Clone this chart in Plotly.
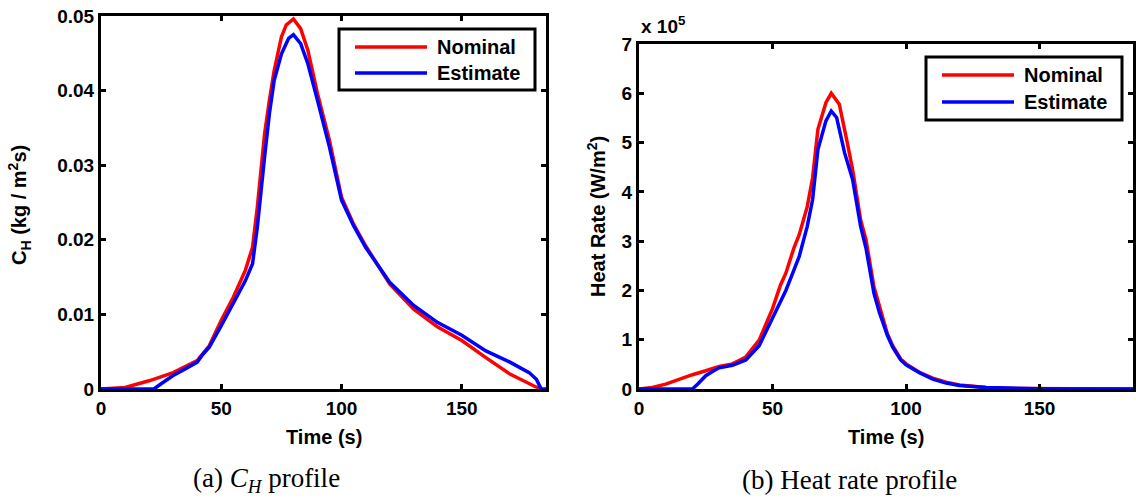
import plotly.graph_objects as go

# ---------------- data ----------------
# Panel (a): C_H profile  (kg / m^2 s)
t_ch_nom = [0, 10, 20, 30, 40, 45, 50, 55, 60, 63, 65, 68, 70, 72, 75, 77, 80, 83, 86, 90,
            95, 100, 105, 110, 120, 130, 140, 150, 160, 170, 180, 183]
ch_nom = [0, 0.0002, 0.0011, 0.0022, 0.0038, 0.0058, 0.0092, 0.0123, 0.0159, 0.0190, 0.0244,
          0.0342, 0.0387, 0.0427, 0.0472, 0.0488, 0.0496, 0.0483, 0.0454, 0.0396, 0.0333,
          0.0257, 0.0221, 0.0192, 0.0141, 0.0107, 0.0083, 0.0065, 0.0042, 0.0020, 0.0004, 0]

t_ch_est = [0, 22, 25, 30, 35, 40, 42, 45, 50, 55, 60, 63, 65, 68, 70, 72, 75, 78, 80, 83, 86,
            90, 95, 100, 105, 110, 120, 130, 140, 150, 160, 170, 178, 181, 183, 185]
ch_est = [0, 0, 0.0007, 0.0018, 0.0027, 0.0036, 0.0045, 0.0056, 0.0085, 0.0114, 0.0145, 0.0168,
          0.0217, 0.0311, 0.0369, 0.0414, 0.0449, 0.0470, 0.0475, 0.0463, 0.0436, 0.0387,
          0.0324, 0.0253, 0.0219, 0.0190, 0.0143, 0.0112, 0.0089, 0.0072, 0.0051, 0.0036,
          0.0022, 0.0013, 0, 0]

# Panel (b): heat rate profile, in units of 1e5 W/m^2
t_hr_nom = [0, 5, 10, 15, 20, 25, 30, 35, 40, 45, 48, 50, 53, 55, 58, 60, 63, 65, 67, 70, 72,
            75, 78, 80, 83, 85, 88, 90, 93, 95, 98, 100, 105, 110, 115, 120, 130, 140, 150,
            160, 185]
hr_nom = [0, 0.03, 0.10, 0.20, 0.29, 0.37, 0.46, 0.51, 0.65, 0.99, 1.36, 1.63, 2.11, 2.35,
          2.86, 3.13, 3.70, 4.28, 5.27, 5.81, 6.00, 5.78, 5.00, 4.45, 3.43, 3.03, 2.07, 1.67,
          1.12, 0.88, 0.61, 0.51, 0.34, 0.22, 0.14, 0.08, 0.03, 0.01, 0.005, 0, 0]

t_hr_est = [0, 20, 22, 25, 28, 30, 35, 40, 45, 50, 55, 58, 60, 63, 65, 67, 70, 72, 74, 77, 80,
            83, 85, 88, 90, 93, 95, 98, 100, 105, 110, 115, 120, 130, 140, 150, 160, 185]
hr_est = [0, 0, 0.10, 0.27, 0.37, 0.43, 0.48, 0.59, 0.88, 1.43, 2.00, 2.41, 2.69, 3.30, 3.84,
          4.86, 5.44, 5.64, 5.51, 4.79, 4.25, 3.30, 2.86, 1.94, 1.56, 1.09, 0.85, 0.59, 0.49,
          0.33, 0.20, 0.12, 0.07, 0.03, 0.01, 0.005, 0, 0]

series_names = ["Nominal", "Estimate"]
x_ticks = [0, 50, 100, 150]
ch_ticks = [0, 0.01, 0.02, 0.03, 0.04, 0.05]
ch_ticktext = ["0", "0.01", "0.02", "0.03", "0.04", "0.05"]
hr_ticks = [0, 1, 2, 3, 4, 5, 6, 7]

# ---------------- figure ----------------
W, H = 1136, 500
COLORS = ["#ff0000", "#0000ff"]
SANS = "Liberation Sans, Arial, sans-serif"
SERIF = "Liberation Serif, Times New Roman, serif"

fig = go.Figure()
panels = [
    ("x", "y", [(t_ch_nom, ch_nom), (t_ch_est, ch_est)]),
    ("x2", "y2", [(t_hr_nom, hr_nom), (t_hr_est, hr_est)]),
]
for xa, ya, series in panels:
    for (tx, vy), name, col in zip(series, series_names, COLORS):
        fig.add_trace(go.Scatter(x=tx, y=vy, mode="lines", name=name, showlegend=False,
                                 line=dict(color=col, width=3.5), xaxis=xa, yaxis=ya,
                                 hoverinfo="skip"))

axis_common = dict(showline=True, linecolor="black", linewidth=3, mirror="ticks",
                   ticks="inside", ticklen=5, tickwidth=3, tickcolor="black",
                   showgrid=False, zeroline=False, automargin=False, fixedrange=True,
                   tickfont=dict(family=SANS, size=19, color="black", weight="bold"))

fig.update_layout(
    width=W, height=H,
    margin=dict(l=0, r=0, t=0, b=0, autoexpand=False),
    paper_bgcolor="white", plot_bgcolor="white",
    xaxis=dict(domain=[101 / W, 546 / W], range=[0, 185], tickvals=x_ticks, anchor="y",
               **axis_common),
    yaxis=dict(domain=[1 - 389 / H, 1 - 16 / H], range=[0, 0.05], tickvals=ch_ticks,
               ticktext=ch_ticktext, anchor="x", **axis_common),
    xaxis2=dict(domain=[639 / W, 1133 / W], range=[0, 185], tickvals=x_ticks, anchor="y2",
                **axis_common),
    yaxis2=dict(domain=[1 - 389 / H, 1 - 44 / H], range=[0, 7], tickvals=hr_ticks,
                anchor="x2", **axis_common),
    showlegend=False,
)

# ---- boxed legends (MATLAB style) ----
leg_font = dict(family=SANS, size=20, color="black", weight="bold")
legend_boxes = [  # (left, top, right, bottom) in pixels, row centres
    ((339, 29, 535, 90), (47, 73)),
    ((926, 57, 1122, 120), (75, 102)),
]
for (x0, y0, x1, y1), rows in legend_boxes:
    fig.add_shape(type="rect", xref="paper", yref="paper",
                  x0=x0 / W, x1=x1 / W, y0=1 - y1 / H, y1=1 - y0 / H,
                  line=dict(color="black", width=3), fillcolor="white", layer="above")
    for ry, name, col in zip(rows, series_names, COLORS):
        fig.add_shape(type="line", xref="paper", yref="paper",
                      x0=(x0 + 16) / W, x1=(x0 + 88) / W, y0=1 - ry / H, y1=1 - ry / H,
                      line=dict(color=col, width=3.5), layer="above")
        fig.add_annotation(text=name, xref="paper", yref="paper", x=(x0 + 96) / W,
                           y=1 - ry / H, xanchor="left", yanchor="middle", showarrow=False,
                           font=leg_font)

lab = dict(family=SANS, size=20, color="black", weight="bold")
cap = dict(family=SERIF, size=27, color="black")
annotations = [
    dict(text="C<sub>H</sub> (kg / m<sup>2</sup>s)", x=20 / W, y=1 - 205 / H, textangle=-90,
         font=lab),
    dict(text="Heat Rate (W/m<sup>2</sup>)", x=597 / W, y=1 - 217 / H, textangle=-90, font=lab),
    dict(text="Time (s)", x=324 / W, y=1 - 437 / H, font=lab),
    dict(text="Time (s)", x=886 / W, y=1 - 437 / H, font=lab),
    dict(text="x 10<sup>5</sup>", x=639 / W, y=1 - 25 / H, xanchor="left",
         font=dict(family=SANS, size=19, color="black", weight="bold")),
    dict(text="(a) <i>C<sub>H</sub></i> profile", x=266 / W, y=1 - 480 / H, font=cap),
    dict(text="(b) Heat rate profile", x=850 / W, y=1 - 480 / H, font=cap),
]
for a in annotations:
    a.setdefault("xanchor", "center")
    fig.add_annotation(xref="paper", yref="paper", showarrow=False, yanchor="middle", **a)

fig.write_html(
    "out.html",
    config={"displayModeBar": False, "staticPlot": True},
    post_script="document.body.style.margin='0';document.body.style.overflow='hidden';",
)
